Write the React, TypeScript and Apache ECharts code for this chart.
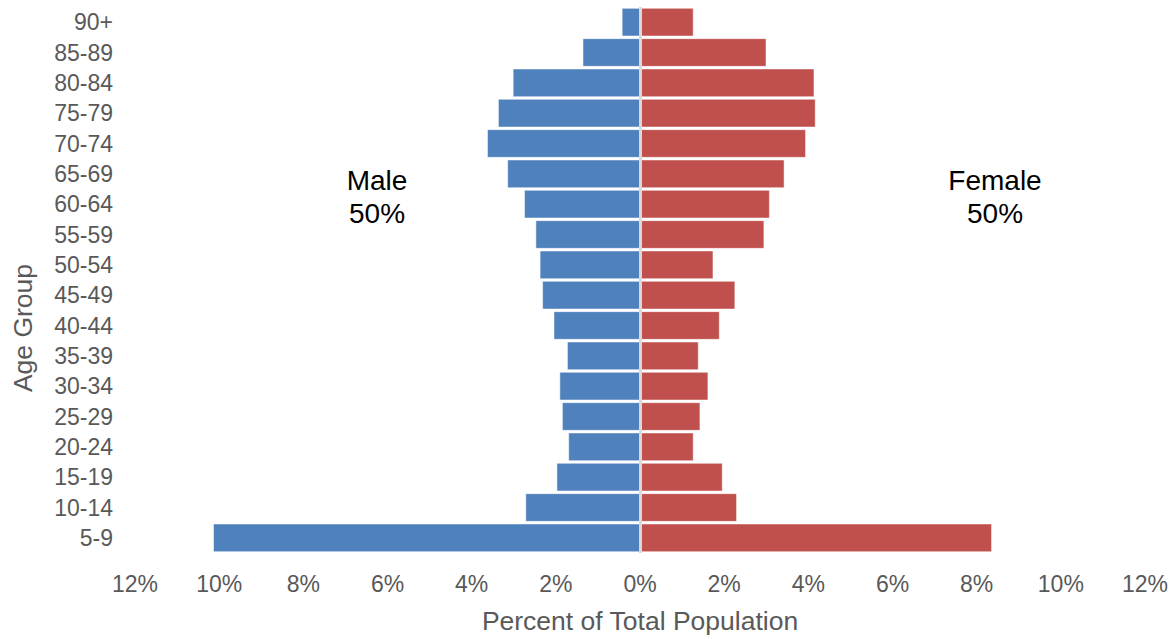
import React, { useEffect, useRef } from "react";
import * as echarts from "echarts";

const ageGroups = ["5-9", "10-14", "15-19", "20-24", "25-29", "30-34", "35-39", "40-44", "45-49", "50-54", "55-59", "60-64", "65-69", "70-74", "75-79", "80-84", "85-89", "90+"];
const malePct = [10.14, 2.72, 1.98, 1.70, 1.85, 1.91, 1.73, 2.05, 2.32, 2.38, 2.48, 2.75, 3.15, 3.63, 3.37, 3.02, 1.36, 0.43];
const femalePct = [8.36, 2.30, 1.96, 1.27, 1.43, 1.62, 1.39, 1.89, 2.26, 1.74, 2.95, 3.08, 3.43, 3.94, 4.17, 4.14, 3.00, 1.27];
const xTicks = [-12, -10, -8, -6, -4, -2, 0, 2, 4, 6, 8, 10, 12];
const sexLabels = ["Male\n50%", "Female\n50%"];
const yAxisTitle = "Age Group";

const FONT = "'Liberation Sans', Arial, sans-serif";

export default function App() {
  const ref = useRef<HTMLDivElement>(null);
  useEffect(() => {
    if (!ref.current) return;
    const chart = echarts.init(ref.current, null, { renderer: "svg" });
    chart.setOption({
      animation: false,
      textStyle: { fontFamily: FONT },
      grid: { left: 135, right: 30, top: 7, bottom: 82 },
      xAxis: {
        type: "value",
        min: xTicks[0],
        max: xTicks[xTicks.length - 1],
        interval: 2,
        splitLine: { show: false },
        axisLine: { show: false },
        axisTick: { show: false },
        axisLabel: {
          formatter: (v: number) => Math.abs(v) + "%",
          fontSize: 23,
          color: "#595959",
          margin: 19,
          fontFamily: FONT,
        },
        name: "Percent of Total Population",
        nameLocation: "middle",
        nameGap: 54,
        nameTextStyle: { fontSize: 26.5, color: "#595959", fontFamily: FONT },
      },
      yAxis: {
        type: "category",
        data: ageGroups,
        axisLine: { show: false, onZero: false },
        axisTick: { show: false },
        axisLabel: { fontSize: 23, color: "#595959", margin: 22, fontFamily: FONT },
      },
      series: [
        {
          name: "Male",
          type: "bar",
          stack: "pop",
          barCategoryGap: "7%",
          data: malePct.map((v) => -v),
          itemStyle: { color: "#4F81BD", borderColor: "#ffffff", borderWidth: 0.5 },
        },
        {
          name: "Female",
          type: "bar",
          stack: "pop",
          barCategoryGap: "7%",
          data: femalePct,
          itemStyle: { color: "#C0504D", borderColor: "#ffffff", borderWidth: 0.5 },
          markLine: {
            silent: true,
            symbol: "none",
            label: { show: false },
            lineStyle: { color: "#D9D9D9", width: 3, type: "solid" },
            data: [{ xAxis: 0 }],
          },
        },
      ],
      graphic: [
        {
          type: "text",
          x: 23,
          y: 328,
          rotation: Math.PI / 2,
          style: {
            text: yAxisTitle,
            fontSize: 26.5,
            fontFamily: FONT,
            fill: "#595959",
            align: "center",
            verticalAlign: "middle",
          },
        },
        {
          type: "text",
          x: 377,
          y: 164,
          style: {
            text: sexLabels[0],
            fontSize: 28,
            fontFamily: FONT,
            fill: "#000000",
            align: "center",
            lineHeight: 33,
          },
        },
        {
          type: "text",
          x: 995,
          y: 164,
          style: {
            text: sexLabels[1],
            fontSize: 28,
            fontFamily: FONT,
            fill: "#000000",
            align: "center",
            lineHeight: 33,
          },
        },
      ],
    });
    return () => chart.dispose();
  }, []);
  return (
    <div
      ref={ref}
      style={{ position: "absolute", left: 0, top: 0, width: 1175, height: 639, background: "#fff" }}
    />
  );
}
